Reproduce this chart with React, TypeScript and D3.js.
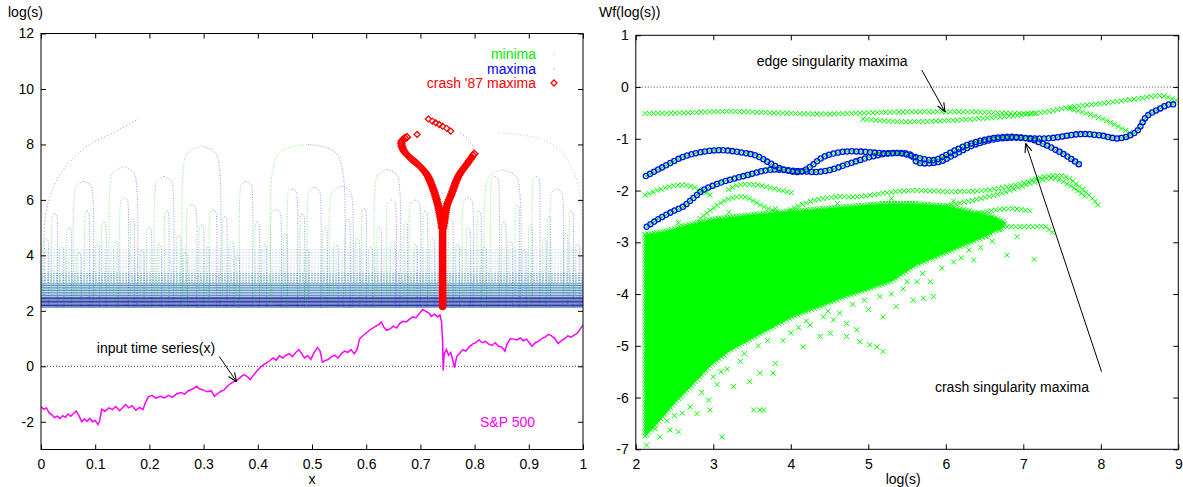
import React, { useRef, useEffect } from 'react';
import * as d3 from 'd3';

const FONT = '"Liberation Sans", Arial, Helvetica, sans-serif';

// ---------- left panel: maxima lines of the wavelet transform, log(s) vs x ----------
const xTicksL = [0, 0.1, 0.2, 0.3, 0.4, 0.5, 0.6, 0.7, 0.8, 0.9, 1];
const yTicksL = [-2, 0, 2, 4, 6, 8, 10, 12];

// scale levels where the short maxima lines pile up into a band
const scaleLevels = [2.14, 2.19, 2.24, 2.29, 2.34, 2.39, 2.44, 2.49, 2.55, 2.61, 2.67, 2.73, 2.79, 2.85,
  2.91, 2.97, 3.03, 3.09, 3.15, 3.21, 3.28, 3.35, 3.43, 3.51, 3.6, 3.7, 3.8, 3.9, 4.0, 4.1, 4.2];

// arches: [x of minima leg, x of maxima leg, top log(s)]
const tallArches = [
  [0.061, 0.096, 6.67], [0.127, 0.177, 7.2], [0.21, 0.244, 6.85], [0.262, 0.33, 7.95],
  [0.367, 0.39, 6.67], [0.427, 0.557, 8.0], [0.616, 0.662, 7.1], [0.819, 0.884, 7.1],
];
const midArches = [
  [0.146, 0.161, 6.08], [0.269, 0.287, 5.83], [0.311, 0.324, 5.64], [0.424, 0.443, 5.65],
  [0.455, 0.473, 6.4], [0.492, 0.516, 6.45], [0.533, 0.575, 6.5], [0.638, 0.655, 6.0],
  [0.68, 0.70, 6.0], [0.778, 0.797, 6.08], [0.83, 0.845, 6.85], [0.907, 0.92, 6.85], [0.94, 0.963, 6.4],
];
const smallArches = [
  [0.004, 0.014, 4.6], [0.02, 0.03, 5.5], [0.034, 0.042, 4.3], [0.047, 0.056, 5.0], [0.066, 0.074, 4.1],
  [0.081, 0.089, 5.6], [0.1, 0.108, 4.4], [0.112, 0.12, 5.2], [0.134, 0.142, 4.5], [0.165, 0.172, 5.3],
  [0.183, 0.19, 4.2], [0.195, 0.204, 5.0], [0.215, 0.222, 4.4], [0.228, 0.236, 5.6], [0.25, 0.258, 4.7],
  [0.262, 0.27, 4.1], [0.292, 0.3, 5.1], [0.305, 0.31, 4.3], [0.335, 0.343, 5.4], [0.348, 0.356, 4.5],
  [0.36, 0.366, 4.0], [0.395, 0.403, 5.2], [0.408, 0.416, 4.4], [0.448, 0.454, 4.8], [0.478, 0.486, 5.5],
  [0.488, 0.494, 4.2], [0.52, 0.528, 5.0], [0.54, 0.548, 4.4], [0.562, 0.57, 5.3], [0.58, 0.588, 4.6],
  [0.592, 0.6, 5.7], [0.604, 0.612, 4.3], [0.62, 0.628, 5.0], [0.645, 0.653, 4.5], [0.67, 0.676, 5.2],
  [0.688, 0.694, 4.4], [0.705, 0.713, 5.6], [0.718, 0.726, 4.6], [0.752, 0.76, 5.3], [0.765, 0.772, 4.4],
  [0.785, 0.792, 5.0], [0.805, 0.812, 5.6], [0.815, 0.822, 4.3], [0.85, 0.858, 5.2], [0.862, 0.87, 4.5],
  [0.875, 0.882, 5.8], [0.888, 0.895, 4.2], [0.9, 0.906, 5.1], [0.925, 0.932, 4.6], [0.935, 0.94, 5.4],
  [0.965, 0.972, 4.8], [0.975, 0.982, 5.6], [0.986, 0.994, 4.4],
];

const edgeMaxLeft = [[0.006, 2.2], [0.006, 4.0], [0.0074, 5.29], [0.0166, 6.13], [0.035, 6.91],
  [0.06, 7.52], [0.09, 8.0], [0.133, 8.42], [0.183, 8.96]];
const edgeMaxRight = [[0.8, 7.7], [0.795, 8.0], [0.785, 8.25], [0.773, 8.42]];
const edgeMinRight = [[0.845, 8.42], [0.9, 8.3], [0.94, 8.05], [0.97, 7.5], [0.99, 6.6], [0.998, 5.5], [1.0, 4.5]];

// crash '87 maxima line
const crashTrunk = [[0.741, 2.16], [0.741, 3.6], [0.741, 5.0], [0.741, 5.3]];
const crashLeft = [[0.740, 5.0], [0.739, 5.17], [0.733, 5.77], [0.724, 6.37], [0.712, 6.91], [0.696, 7.27],
  [0.681, 7.52], [0.668, 7.82], [0.6655, 8.12], [0.676, 8.27]];
const crashRight = [[0.742, 5.0], [0.7435, 5.17], [0.7485, 5.77], [0.758, 6.25], [0.770, 6.85], [0.785, 7.27], [0.8007, 7.70]];
const crashLoose = [[0.7146, 8.92], [0.722, 8.84], [0.7282, 8.78], [0.7349, 8.72], [0.741, 8.66],
  [0.7485, 8.58], [0.7559, 8.48], [0.694, 8.36]];

// input time series (S&P 500)
const sp500 = [
  [0, -1.45], [0.005, -1.55], [0.01, -1.5], [0.015, -1.68], [0.02, -1.75], [0.025, -1.85], [0.03, -1.8],
  [0.035, -1.88], [0.04, -1.78], [0.045, -1.84], [0.05, -1.72], [0.055, -1.8], [0.06, -1.7], [0.065, -1.62],
  [0.07, -1.78], [0.075, -2.0], [0.08, -1.9], [0.085, -1.98], [0.09, -1.88], [0.095, -2.0], [0.1, -1.95],
  [0.105, -2.1], [0.108, -1.98], [0.112, -1.55], [0.118, -1.62], [0.125, -1.5], [0.132, -1.56], [0.138, -1.45],
  [0.145, -1.6], [0.15, -1.5], [0.156, -1.38], [0.162, -1.5], [0.168, -1.42], [0.175, -1.58], [0.182, -1.48],
  [0.188, -1.56], [0.193, -1.3], [0.198, -1.1], [0.205, -1.05], [0.212, -1.15], [0.22, -1.08], [0.228, -1.14],
  [0.235, -1.05], [0.242, -1.12], [0.25, -1.0], [0.258, -0.95], [0.265, -1.0], [0.272, -0.88], [0.28, -0.82],
  [0.287, -0.72], [0.293, -0.82], [0.3, -0.86], [0.307, -0.92], [0.314, -0.88], [0.32, -1.08], [0.326, -0.98],
  [0.332, -0.9], [0.338, -0.85], [0.344, -0.72], [0.35, -0.62], [0.356, -0.55], [0.362, -0.5], [0.368, -0.4],
  [0.374, -0.3], [0.38, -0.36], [0.386, -0.48], [0.392, -0.32], [0.398, -0.18], [0.404, -0.05], [0.41, 0.05],
  [0.416, 0.12], [0.422, 0.2], [0.428, 0.3], [0.434, 0.22], [0.44, 0.38], [0.446, 0.3], [0.452, 0.4],
  [0.458, 0.45], [0.464, 0.35], [0.47, 0.5], [0.476, 0.6], [0.481, 0.45], [0.486, 0.3], [0.492, 0.38],
  [0.498, 0.25], [0.504, 0.5], [0.51, 0.68], [0.515, 0.55], [0.519, 0.15], [0.524, 0.2], [0.53, 0.25],
  [0.536, 0.35], [0.542, 0.4], [0.548, 0.3], [0.554, 0.45], [0.56, 0.55], [0.566, 0.5], [0.572, 0.6],
  [0.578, 0.45], [0.583, 0.6], [0.588, 1.0], [0.594, 1.1], [0.6, 1.2], [0.606, 1.3], [0.612, 1.38],
  [0.618, 1.45], [0.624, 1.52], [0.628, 1.6], [0.633, 1.4], [0.638, 1.3], [0.644, 1.35], [0.65, 1.45],
  [0.656, 1.38], [0.662, 1.55], [0.668, 1.62], [0.674, 1.6], [0.68, 1.7], [0.686, 1.78], [0.692, 1.75],
  [0.698, 1.9], [0.704, 2.05], [0.71, 1.98], [0.716, 1.92], [0.72, 1.8], [0.726, 1.88], [0.732, 1.78],
  [0.736, 1.85], [0.739, 1.6], [0.741, 0.9], [0.742, -0.15], [0.744, 0.45], [0.748, 0.6], [0.752, 0.4],
  [0.756, 0.5], [0.76, 0.2], [0.763, -0.05], [0.767, 0.35], [0.772, 0.45], [0.778, 0.6], [0.784, 0.55],
  [0.79, 0.7], [0.796, 0.8], [0.802, 0.85], [0.808, 0.95], [0.814, 0.85], [0.82, 0.9], [0.826, 0.8],
  [0.832, 0.75], [0.838, 0.85], [0.844, 0.72], [0.85, 0.7], [0.856, 0.55], [0.86, 0.8], [0.866, 1.0],
  [0.872, 0.98], [0.878, 0.95], [0.884, 1.02], [0.89, 0.92], [0.896, 0.98], [0.902, 0.82], [0.906, 0.72],
  [0.912, 0.85], [0.918, 0.9], [0.924, 1.0], [0.93, 1.05], [0.936, 1.15], [0.942, 1.1], [0.948, 1.0],
  [0.954, 0.82], [0.96, 0.92], [0.966, 1.0], [0.972, 1.1], [0.978, 1.05], [0.984, 1.12], [0.99, 1.2],
  [0.995, 1.35], [1.0, 1.48],
];

// ---------- right panel: Wf(log(s)) along the maxima lines ----------
const xTicksR = [2, 3, 4, 5, 6, 7, 8, 9];
const yTicksR = [-7, -6, -5, -4, -3, -2, -1, 0, 1];

const cloudTop = [[2.12, -2.85], [2.4, -2.78], [2.7, -2.65], [3.0, -2.55], [3.3, -2.5], [3.6, -2.45],
  [4.0, -2.4], [4.4, -2.35], [4.8, -2.3], [5.2, -2.25], [5.6, -2.25], [6.0, -2.3], [6.3, -2.4], [6.6, -2.5], [6.75, -2.6]];
const cloudBottom = [[2.12, -6.75], [2.3, -6.45], [2.5, -6.1], [2.7, -5.8], [2.95, -5.4], [3.2, -5.1],
  [3.5, -4.85], [3.75, -4.65], [4.0, -4.45], [4.35, -4.25], [4.7, -4.05], [5.0, -3.9], [5.3, -3.75],
  [5.6, -3.45], [6.0, -3.2], [6.4, -2.95], [6.75, -2.7]];
const cloudStray = [
  [2.14, -6.92], [2.31, -6.76], [2.44, -6.63], [2.55, -6.66], [2.7, -6.18], [2.79, -6.31], [2.96, -6.24],
  [3.11, -6.76], [3.52, -6.24], [3.6, -6.24], [3.65, -6.24], [2.94, -6.05], [3.26, -5.79], [3.47, -5.69],
  [3.6, -5.53], [3.77, -5.53], [3.8, -5.34], [4.16, -5.02], [4.38, -4.82], [4.51, -4.76], [4.72, -4.82],
  [4.85, -4.69], [4.89, -4.92], [5.02, -4.98], [5.11, -5.02], [5.19, -5.11], [4.42, -4.44], [4.63, -4.37],
  [4.72, -4.57], [5.19, -4.44], [5.36, -4.24], [5.58, -4.12], [5.71, -4.08], [5.84, -4.05], [5.8, -3.76],
  [5.63, -3.76], [5.5, -3.76], [6.36, -3.34], [5.8, -3.21], [6.53, -2.89], [6.92, -2.89], [6.79, -3.25],
  [7.14, -3.33], [6.7, -2.76], [3.0, -5.6], [3.1, -5.5], [2.6, -6.3], [2.25, -6.6], [3.35, -5.3],
  [3.9, -4.9], [4.0, -4.75], [4.25, -4.6], [4.55, -4.5], [5.0, -4.3], [5.3, -4.0], [5.95, -3.5],
  [6.2, -3.3], [6.45, -3.1], [2.4, -6.45], [2.5, -6.35], [2.85, -5.9], [3.05, -5.75], [3.18, -5.45],
  [3.4, -5.15], [3.58, -5.0], [3.7, -4.9], [4.1, -4.65], [4.2, -4.52], [4.48, -4.33], [4.8, -4.2],
  [4.95, -4.12], [5.15, -4.05], [5.45, -3.9], [5.7, -3.6], [6.1, -3.38], [6.3, -3.15], [6.6, -2.98],
  [6.1, -2.2], [5.3, -2.15], [4.6, -2.25], [3.8, -2.35], [3.2, -2.42], [2.55, -2.62],
];

// minima-only chains (green crosses)
const edgeChain = [[2.12, -0.51], [2.6, -0.5], [3.2, -0.47], [3.8, -0.5], [4.4, -0.52], [5.0, -0.5],
  [5.5, -0.48], [6.3, -0.48], [7.2, -0.5], [7.63, -0.38], [8.06, -0.31], [8.49, -0.22], [8.79, -0.17], [9.0, -0.28]];
const edgeChain2 = [[4.93, -0.62], [5.42, -0.67], [6.12, -0.64], [6.77, -0.57], [7.19, -0.5]];
const edgeBranch = [[7.6, -0.42], [7.76, -0.48], [8.06, -0.64], [8.27, -0.8], [8.4, -0.9]];
const chainA = [[2.12, -2.09], [2.35, -1.96], [2.61, -1.89], [2.79, -1.96], [3.0, -2.12]];
const chainB = [[3.2, -1.98], [3.34, -1.89], [3.56, -1.89], [3.77, -1.96], [4.03, -2.05]];
const chainC = [[2.83, -2.54], [3.0, -2.34], [3.17, -2.18], [3.39, -2.12], [3.65, -2.31], [3.95, -2.5]];
const chainD = [[3.9, -2.45], [4.08, -2.31], [4.33, -2.18], [4.59, -2.12], [4.85, -2.12], [5.2, -2.05],
  [5.55, -2.0], [6.12, -2.02], [6.55, -1.99], [6.98, -1.86], [7.28, -1.73], [7.54, -1.73], [7.72, -1.92],
  [7.89, -2.15], [7.98, -2.31]];
const chainE = [[5.42, -2.47], [5.85, -2.34], [6.29, -2.21], [6.72, -2.05], [7.16, -1.83], [7.38, -1.76],
  [7.6, -1.9], [7.8, -2.12]];
const chainF = [[5.6, -2.6], [6.2, -2.5], [6.8, -2.35], [7.12, -2.4]];
const chainG = [[6.79, -2.7], [6.97, -2.7], [7.14, -2.7], [7.28, -2.7], [7.41, -2.86]];

// chains that are maxima and minima at once (blue circles with crosses)
const crashChain = [[2.13, -1.72], [2.355, -1.54], [2.61, -1.35], [2.87, -1.25], [3.09, -1.22], [3.3, -1.25],
  [3.56, -1.33], [3.73, -1.47], [3.9, -1.59], [4.12, -1.64], [4.25, -1.54], [4.42, -1.35], [4.68, -1.25],
  [4.94, -1.25], [5.2, -1.28], [5.42, -1.28], [5.68, -1.38], [5.85, -1.41], [6.12, -1.22], [6.33, -1.09],
  [6.59, -0.99], [6.85, -0.96], [7.07, -0.99], [7.33, -0.99], [7.72, -0.91], [7.98, -0.93], [8.24, -0.99],
  [8.46, -0.86], [8.59, -0.57], [8.77, -0.41], [8.9, -0.33], [8.97, -0.35]];
const crashChain2 = [[2.14, -2.7], [2.27, -2.57], [2.48, -2.4], [2.61, -2.31], [2.74, -2.15], [2.87, -1.99],
  [3.13, -1.83], [3.39, -1.72], [3.73, -1.6], [4.08, -1.62], [4.33, -1.64], [4.51, -1.6], [4.77, -1.47],
  [5.03, -1.35], [5.29, -1.28], [5.55, -1.31], [5.63, -1.45], [5.9, -1.45], [6.12, -1.3], [6.33, -1.14],
  [6.59, -1.02], [6.85, -0.98], [7.07, -1.0], [7.29, -1.12], [7.5, -1.28], [7.67, -1.44], [7.76, -1.54]];

const greenChains = [edgeChain, edgeChain2, edgeBranch, chainA, chainB, chainC, chainD, chainE, chainF, chainG];
const blueChains = [crashChain2, crashChain];

// labels with arrows, in data coordinates
const notesLeft = [
  { text: 'input time series(x)', at: [0.103, 0.66], from: [0.329, 0.35], to: [0.361, -0.56] },
];
const notesRight = [
  { text: 'edge singularity maxima', at: [3.56, 0.5], from: [5.69, 0.33], to: [5.99, -0.48] },
  { text: 'crash singularity maxima', at: [5.86, -5.8], from: [8.01, -5.5], to: [7.03, -1.09] },
];

type Pt = number[];

function along(parent: any, pts: Pt[], x: any, y: any, step: number, mark: (a: number, b: number) => string, curve: any = d3.curveCatmullRom) {
  const line = d3.line<Pt>().x(d => x(d[0])).y(d => y(d[1])).curve(curve);
  const p = parent.append('path').attr('d', line(pts)).attr('fill', 'none');
  const node = p.node() as SVGPathElement;
  const len = node.getTotalLength();
  let s = '';
  for (let l = 0; l <= len + 0.01; l += step) {
    const q = node.getPointAtLength(Math.min(l, len));
    s += mark(q.x, q.y);
  }
  p.remove();
  return s;
}
const cross = (a: number) => (px: number, py: number) =>
  `M${px - a},${py - a}L${px + a},${py + a}M${px - a},${py + a}L${px + a},${py - a}`;
const ring = (r: number) => (px: number, py: number) =>
  `M${px + r},${py}A${r},${r} 0 1 0 ${px - r},${py}A${r},${r} 0 1 0 ${px + r},${py}`;
const diamond = (a: number) => (px: number, py: number) =>
  `M${px},${py - a}L${px + a},${py}L${px},${py + a}L${px - a},${py}Z`;

function frame(svg: any, x: any, y: any, xt: number[], yt: number[]) {
  const [x0, x1] = x.range();
  const [y0, y1] = y.range();
  const fmt = (d: any) => String(d);
  const style = (g: any) => {
    g.select('.domain').remove();
    g.attr('font-size', 14).attr('font-family', FONT);
    g.selectAll('text').attr('fill', '#000');
    g.selectAll('line').attr('stroke', '#000');
  };
  svg.append('g').attr('transform', `translate(0,${y0})`)
    .call(d3.axisBottom(x).tickValues(xt).tickSize(-5).tickPadding(10).tickFormat(fmt)).call(style);
  svg.append('g').attr('transform', `translate(0,${y1})`)
    .call(d3.axisTop(x).tickValues(xt).tickSize(-5).tickFormat(() => '')).call(style);
  svg.append('g').attr('transform', `translate(${x0},0)`)
    .call(d3.axisLeft(y).tickValues(yt).tickSize(-5).tickPadding(7).tickFormat(fmt)).call(style);
  svg.append('g').attr('transform', `translate(${x1},0)`)
    .call(d3.axisRight(y).tickValues(yt).tickSize(-5).tickFormat(() => '')).call(style);
  svg.append('rect').attr('x', x0).attr('y', y1).attr('width', x1 - x0).attr('height', y0 - y1)
    .attr('fill', 'none').attr('stroke', '#000').attr('stroke-width', 1);
}

function levelColor(l: number) {
  if (l < 2.5) return '#1a2fa0';
  if (l < 3.0) return '#4f8dbd';
  if (l < 3.4) return '#8fb9d6';
  return '#d6e0f0';
}

function App() {
  const svgRef = useRef<SVGSVGElement>(null);

  useEffect(() => {
    const svg = d3.select(svgRef.current);
    svg.selectAll('*').remove();

    const defs = svg.append('defs');
    defs.append('marker').attr('id', 'arrow').attr('viewBox', '0 0 10 10').attr('refX', 10).attr('refY', 5)
      .attr('markerWidth', 9).attr('markerHeight', 9).attr('markerUnits', 'userSpaceOnUse').attr('orient', 'auto')
      .append('path').attr('d', 'M0,1L10,5L0,9').attr('fill', 'none').attr('stroke', '#000').attr('stroke-width', 1.2);

    // ---------------- left panel ----------------
    const xL = d3.scaleLinear().domain([0, 1]).range([41, 583]);
    const yL = d3.scaleLinear().domain([-3, 12]).range([449.5, 33.5]);
    defs.append('clipPath').attr('id', 'clipL').append('rect')
      .attr('x', 41).attr('y', 33.5).attr('width', 542).attr('height', 416);
    const gl = svg.append('g').attr('clip-path', 'url(#clipL)');

    gl.selectAll('line.lvl').data(scaleLevels).join('line').attr('class', 'lvl')
      .attr('x1', xL(0)).attr('x2', xL(1)).attr('y1', d => yL(d)).attr('y2', d => yL(d))
      .attr('stroke', d => levelColor(d)).attr('stroke-width', 1)
      .attr('stroke-dasharray', d => (d < 3 ? null : '2 1'));

    const lineL = d3.line<Pt>().x(d => xL(d[0])).y(d => yL(d[1])).curve(d3.curveCatmullRom);
    const arches = [...smallArches, ...midArches, ...tallArches];
    arches.forEach(([xl, xr, top]) => {
      const w = xr - xl;
      const h = Math.min(1.0, w * 15 + 0.1);
      const mid = (xl + xr) / 2;
      const left = [[xl, 2.1], [xl, top - h], [xl + w * 0.12, top - h * 0.25], [mid, top]];
      const right = [[mid, top], [xr - w * 0.12, top - h * 0.25], [xr, top - h], [xr, 2.1]];
      gl.append('path').attr('d', lineL(left)).attr('fill', 'none').attr('stroke', '#22dd22')
        .attr('stroke-opacity', 0.55).attr('stroke-dasharray', '1 1.6');
      gl.append('path').attr('d', lineL(right)).attr('fill', 'none').attr('stroke', '#3030ff')
        .attr('stroke-opacity', 0.5).attr('stroke-dasharray', '1 1.6');
    });
    [[edgeMaxLeft, '#3030ff'], [edgeMaxRight, '#3030ff'], [edgeMinRight, '#22dd22']].forEach(([pts, c]: any) => {
      gl.append('path').attr('d', lineL(pts)).attr('fill', 'none').attr('stroke', c)
        .attr('stroke-opacity', 0.55).attr('stroke-dasharray', '1 2.5');
    });

    // zero line
    gl.append('line').attr('x1', xL(0)).attr('x2', xL(1)).attr('y1', yL(0)).attr('y2', yL(0))
      .attr('stroke', '#000').attr('stroke-opacity', 0.75).attr('stroke-dasharray', '1 2');

    // S&P 500 series
    const spLine = d3.line<Pt>().x(d => xL(d[0])).y(d => yL(d[1]));
    gl.append('path').attr('d', spLine(sp500)).attr('fill', 'none').attr('stroke', '#ff00ff').attr('stroke-width', 1.5);

    // crash maxima
    gl.append('path').attr('d', d3.line<Pt>().x(d => xL(d[0])).y(d => yL(d[1]))(crashTrunk))
      .attr('fill', 'none').attr('stroke', '#ff0000').attr('stroke-width', 7.5).attr('stroke-linecap', 'round');
    [crashLeft, crashRight].forEach(pts => {
      gl.append('path').attr('d', along(gl, pts, xL, yL, 2.2, diamond(3.6)))
        .attr('fill', 'none').attr('stroke', '#ff0000').attr('stroke-width', 1.4);
    });
    gl.append('path').attr('d', crashLoose.map(d => diamond(3)(xL(d[0]), yL(d[1]))).join(''))
      .attr('fill', '#fff').attr('stroke', '#ff0000').attr('stroke-width', 1.3);

    frame(svg, xL, yL, xTicksL, yTicksL);

    // legend
    const legend = [['minima', '#00ee00'], ['maxima', '#0000ff'], ["crash '87 maxima", '#ff0000']];
    legend.forEach(([t, c], i) => {
      svg.append('text').attr('x', 536).attr('y', 54.5 + i * 14.3).attr('dy', '0.35em')
        .attr('text-anchor', 'end').attr('font-family', FONT).attr('font-size', 14).attr('fill', c).text(t);
    });
    svg.append('rect').attr('x', 553.5).attr('y', 54).attr('width', 1).attr('height', 1).attr('fill', '#66ee66');
    svg.append('rect').attr('x', 553.5).attr('y', 68.5).attr('width', 1).attr('height', 1).attr('fill', '#6666ff');
    svg.append('path').attr('d', diamond(3)(554, 83)).attr('fill', '#fff').attr('stroke', '#ff0000').attr('stroke-width', 1.3);

    notesLeft.forEach(n => {
      svg.append('text').attr('x', xL(n.at[0])).attr('y', yL(n.at[1])).attr('dy', '0.35em')
        .attr('font-family', FONT).attr('font-size', 14).attr('fill', '#000').text(n.text);
      svg.append('line').attr('x1', xL(n.from[0])).attr('y1', yL(n.from[1]))
        .attr('x2', xL(n.to[0])).attr('y2', yL(n.to[1])).attr('stroke', '#000').attr('marker-end', 'url(#arrow)');
    });
    svg.append('text').attr('x', xL(0.81)).attr('y', yL(-2.0)).attr('dy', '0.35em')
      .attr('font-family', FONT).attr('font-size', 14).attr('fill', '#ff00ff').text('S&P 500');

    svg.append('text').attr('x', 8).attr('y', 17).attr('font-family', FONT).attr('font-size', 14).text('log(s)');
    svg.append('text').attr('x', xL(0.5)).attr('y', 484).attr('text-anchor', 'middle')
      .attr('font-family', FONT).attr('font-size', 14).text('x');

    // ---------------- right panel ----------------
    const xR = d3.scaleLinear().domain([2, 9]).range([635.8, 1178.3]);
    const yR = d3.scaleLinear().domain([-7, 1]).range([449.3, 35.3]);
    defs.append('clipPath').attr('id', 'clipR').append('rect')
      .attr('x', 635.8).attr('y', 35.3).attr('width', 542.5).attr('height', 414);
    const gr = svg.append('g').attr('clip-path', 'url(#clipR)');

    gr.append('line').attr('x1', xR(2)).attr('x2', xR(9)).attr('y1', yR(0)).attr('y2', yR(0))
      .attr('stroke', '#000').attr('stroke-opacity', 0.75).attr('stroke-dasharray', '1 2');

    const cloud = [...cloudTop, ...cloudBottom.slice().reverse()];
    gr.append('path').attr('d', d3.line<Pt>().x(d => xR(d[0])).y(d => yR(d[1])).curve(d3.curveLinearClosed)(cloud))
      .attr('fill', '#00ff00');
    gr.append('path').attr('d', along(gr, cloud, xR, yR, 3, cross(2.5), d3.curveLinearClosed))
      .attr('fill', 'none').attr('stroke', '#00ff00').attr('stroke-width', 1);
    gr.append('path').attr('d', cloudStray.map(d => cross(2.5)(xR(d[0]), yR(d[1]))).join(''))
      .attr('fill', 'none').attr('stroke', '#00ff00').attr('stroke-width', 1);

    greenChains.forEach(pts => {
      gr.append('path').attr('d', along(gr, pts, xR, yR, 4.3, cross(2.5)))
        .attr('fill', 'none').attr('stroke', '#00ff00').attr('stroke-width', 1);
    });
    blueChains.forEach(pts => {
      gr.append('path').attr('d', along(gr, pts, xR, yR, 4.6, cross(2.6)))
        .attr('fill', 'none').attr('stroke', '#00ff00').attr('stroke-width', 1);
      gr.append('path').attr('d', along(gr, pts, xR, yR, 4.6, ring(2.6)))
        .attr('fill', 'none').attr('stroke', '#0000ff').attr('stroke-width', 1.3);
    });

    frame(svg, xR, yR, xTicksR, yTicksR);

    notesRight.forEach(n => {
      svg.append('text').attr('x', xR(n.at[0])).attr('y', yR(n.at[1])).attr('dy', '0.35em')
        .attr('font-family', FONT).attr('font-size', 14).attr('fill', '#000').text(n.text);
      svg.append('line').attr('x1', xR(n.from[0])).attr('y1', yR(n.from[1]))
        .attr('x2', xR(n.to[0])).attr('y2', yR(n.to[1])).attr('stroke', '#000').attr('marker-end', 'url(#arrow)');
    });

    svg.append('text').attr('x', 599).attr('y', 17).attr('font-family', FONT).attr('font-size', 14).text('Wf(log(s))');
    svg.append('text').attr('x', xR(5.45)).attr('y', 484).attr('text-anchor', 'middle')
      .attr('font-family', FONT).attr('font-size', 14).text('log(s)');
  }, []);

  return (
    <svg ref={svgRef} width={1183} height={487}
      style={{ position: 'absolute', left: 0, top: 0, background: '#fff', display: 'block' }} />
  );
}

export default App;
